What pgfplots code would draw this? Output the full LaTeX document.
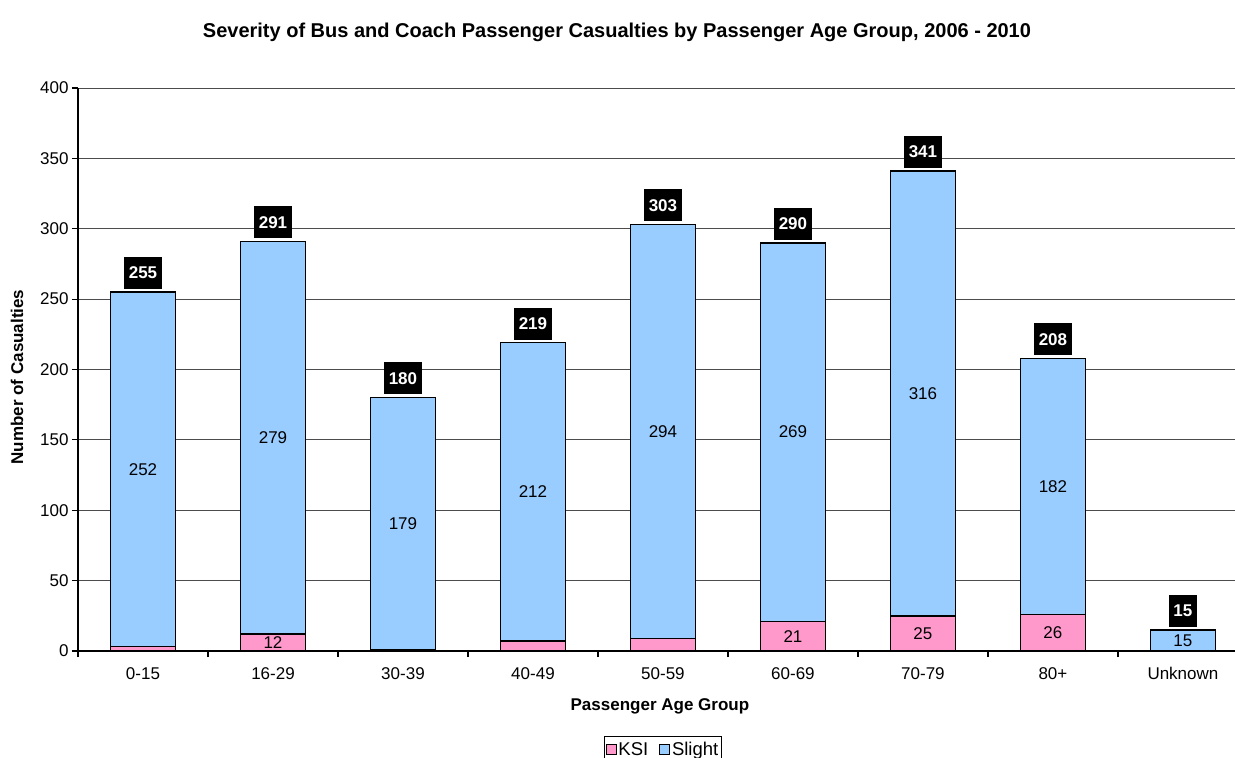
\documentclass[border=0pt]{standalone}
\usepackage{pgfplots}
\pgfplotsset{compat=1.18}
\usepackage{pgfplotstable}
\usepackage{fontspec}
\setmainfont{Liberation Sans}

\definecolor{ksipink}{HTML}{FF99CC}
\definecolor{slightblue}{HTML}{99CCFF}
\newcommand\chartfont{\fontsize{17bp}{20bp}\selectfont}

% Casualties by age group: KSI, slight and total
\pgfplotstableread{
x ksi slight total
0 3 252 255
1 12 279 291
2 1 179 180
3 7 212 219
4 9 294 303
5 21 269 290
6 25 316 341
7 26 182 208
8 0 15 15
}\casualties

% KSI segments tall enough to carry their value
\pgfplotstableread{
x ksi
1 12
5 21
6 25
7 26
}\ksilabels

\begin{document}
\begin{tikzpicture}
\begin{axis}[
  at={(0,0)}, anchor=south west,
  scale only axis,
  width=1170bp, height=563bp,
  xmin=-0.5, xmax=8.5,
  ymin=0, ymax=400,
  ytick={0,50,...,400},
  xtick={-0.5,0.5,...,7.5},
  xticklabels={0-15,16-29,30-39,40-49,50-59,60-69,70-79,80+,Unknown},
  xticklabel style={xshift=65bp, yshift=-7bp},
  tick align=outside,
  major tick length=6bp,
  axis x line*=bottom, axis y line*=left,
  ymajorgrids,
  grid style={black!70, line width=0.9bp},
  axis line style={black, line width=1.2bp},
  tick style={black, line width=1.2bp},
  /pgf/number format/assume math mode=true,
  ticklabel style={font=\chartfont},
  xlabel={Passenger Age Group},
  ylabel={Number of Casualties},
  xlabel style={at={(axis description cs:0.4974,-0.0977)}, anchor=center, font=\chartfont\bfseries},
  ylabel style={at={(axis description cs:-0.0521,0.4867)}, anchor=center, font=\chartfont\bfseries},
  legend style={at={(axis description cs:0.5,0)}, anchor=north, yshift=-85bp,
    legend columns=2, draw=black, line width=0.8bp,
    font=\fontsize{18.5bp}{22bp}\selectfont,
    inner xsep=1.5bp, inner ysep=4bp,
    /tikz/every even column/.append style={column sep=9bp}},
  legend cell align=left,
  reverse legend,
  legend image code/.code={\draw[#1, line width=0.8bp] (0bp,-5bp) rectangle (10bp,5bp);},
]
% whole bar (blue), then the KSI part over its base
\addplot[ybar, bar width=65bp, bar shift=0pt, fill=slightblue, draw=black, line width=1.4bp]
  table[x=x, y=total] {\casualties};
\addlegendentry{Slight}
\addplot[ybar, bar width=65bp, bar shift=0pt, fill=ksipink, draw=black, line width=1.4bp]
  table[x=x, y=ksi] {\casualties};
\addlegendentry{KSI}

% value of the slight segment, in its middle
\addplot[only marks, mark=none, forget plot, nodes near coords, point meta=explicit,
  every node near coord/.append style={anchor=center, font=\chartfont, text=black}]
  table[x=x, y expr=\thisrow{ksi}+\thisrow{slight}/2, meta=slight] {\casualties};

% value of the KSI segment, in its middle
\addplot[only marks, mark=none, forget plot, nodes near coords, point meta=explicit,
  every node near coord/.append style={anchor=center, font=\chartfont, text=black}]
  table[x=x, y expr=\thisrow{ksi}/2, meta=ksi] {\ksilabels};

% totals above each bar
\addplot[only marks, mark=none, forget plot, nodes near coords, point meta=explicit,
  every node near coord/.append style={anchor=south, yshift=3bp, fill=black, text=white,
    font=\chartfont\bfseries, inner xsep=4.5bp, inner ysep=10bp,
    text height=12bp, text depth=0bp}]
  table[x=x, y=total, meta=total] {\casualties};
\end{axis}
\node[font=\fontsize{20bp}{24bp}\selectfont\bfseries] at (539bp,619bp)
  {Severity of Bus and Coach Passenger Casualties by Passenger Age Group, 2006 - 2010};
\pgfresetboundingbox
\useasboundingbox (-78bp,-107bp) rectangle (1157bp,651bp);
\end{tikzpicture}
\end{document}
